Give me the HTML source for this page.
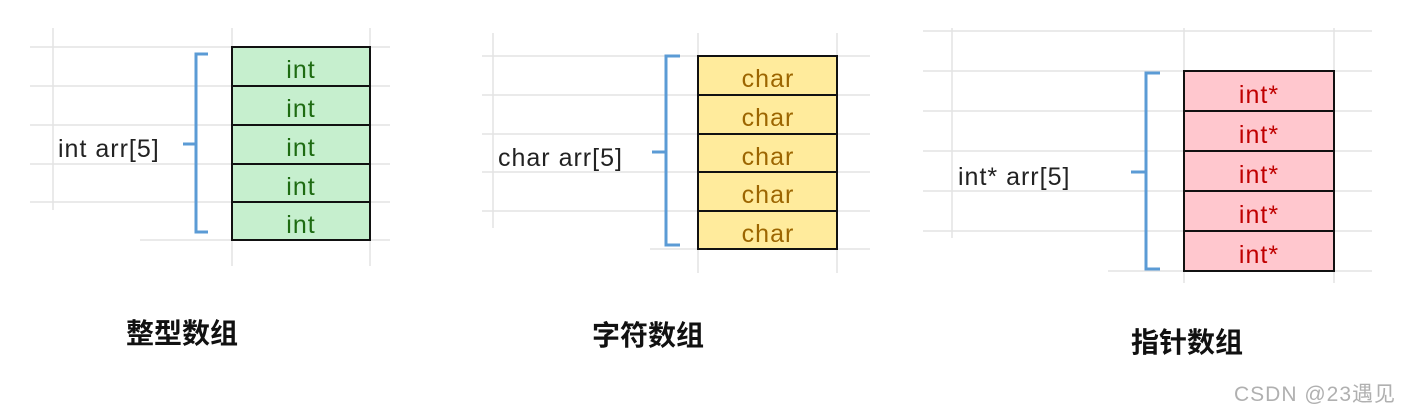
<!DOCTYPE html>
<html><head><meta charset="utf-8"><style>
body{margin:0;background:#fff;width:1402px;height:418px;overflow:hidden}
svg{display:block}
text{font-family:"Liberation Sans","Noto Sans CJK SC",sans-serif}
</style></head><body>
<svg width="1402" height="418" viewBox="0 0 1402 418">
<g stroke="#e3e3e3" stroke-width="1.5" fill="none">
<line x1="30" y1="47" x2="390" y2="47"/><line x1="30" y1="86" x2="390" y2="86"/><line x1="30" y1="125" x2="390" y2="125"/><line x1="30" y1="164" x2="390" y2="164"/><line x1="30" y1="202" x2="390" y2="202"/><line x1="140" y1="240" x2="390" y2="240"/>
<line x1="53" y1="28" x2="53" y2="210"/><line x1="232" y1="28" x2="232" y2="266"/><line x1="370" y1="28" x2="370" y2="266"/>
<line x1="482" y1="56" x2="870" y2="56"/><line x1="482" y1="95" x2="870" y2="95"/><line x1="482" y1="134" x2="870" y2="134"/><line x1="482" y1="172" x2="870" y2="172"/><line x1="482" y1="211" x2="870" y2="211"/><line x1="650" y1="249" x2="870" y2="249"/>
<line x1="493" y1="33" x2="493" y2="228"/><line x1="698" y1="33" x2="698" y2="273"/><line x1="837" y1="33" x2="837" y2="273"/>
<line x1="923" y1="31" x2="1372" y2="31"/><line x1="923" y1="71" x2="1372" y2="71"/><line x1="923" y1="111" x2="1372" y2="111"/><line x1="923" y1="151" x2="1372" y2="151"/><line x1="923" y1="191" x2="1372" y2="191"/><line x1="923" y1="231" x2="1372" y2="231"/><line x1="1108" y1="271" x2="1372" y2="271"/>
<line x1="952" y1="28" x2="952" y2="238"/><line x1="1184" y1="28" x2="1184" y2="283"/><line x1="1334" y1="28" x2="1334" y2="283"/>
</g>
<g stroke="#111" stroke-width="2">
<rect x="232" y="47" width="138" height="193" fill="#c6efce"/>
<line x1="232" y1="86" x2="370" y2="86"/><line x1="232" y1="125" x2="370" y2="125"/><line x1="232" y1="164" x2="370" y2="164"/><line x1="232" y1="202" x2="370" y2="202"/>
<rect x="698" y="56" width="139" height="193" fill="#ffeb9c"/>
<line x1="698" y1="95" x2="837" y2="95"/><line x1="698" y1="134" x2="837" y2="134"/><line x1="698" y1="172" x2="837" y2="172"/><line x1="698" y1="211" x2="837" y2="211"/>
<rect x="1184" y="71" width="150" height="200" fill="#ffc7ce"/>
<line x1="1184" y1="111" x2="1334" y2="111"/><line x1="1184" y1="151" x2="1334" y2="151"/><line x1="1184" y1="191" x2="1334" y2="191"/><line x1="1184" y1="231" x2="1334" y2="231"/>
</g>
<g stroke="#5b9bd5" stroke-width="3" fill="none">
<path d="M208 54 H196 V144 M183 144 H196 M196 144 V232 H208"/>
<path d="M680 56 H666 V152 M652 152 H666 M666 152 V245 H680"/>
<path d="M1160 73 H1146 V172 M1131 172 H1146 M1146 172 V269 H1160"/>
</g>
<g font-size="25" text-anchor="middle" letter-spacing="1">
<g fill="#1e6b12"><text x="301" y="78">int</text><text x="301" y="117">int</text><text x="301" y="156">int</text><text x="301" y="195">int</text><text x="301" y="233">int</text></g>
<g fill="#9c6500"><text x="768" y="87">char</text><text x="768" y="126">char</text><text x="768" y="165">char</text><text x="768" y="203">char</text><text x="768" y="242">char</text></g>
<g fill="#c00000"><text x="1259" y="103">int*</text><text x="1259" y="143">int*</text><text x="1259" y="183">int*</text><text x="1259" y="223">int*</text><text x="1259" y="263">int*</text></g>
</g>
<g font-size="25" fill="#222" letter-spacing="1">
<text x="58" y="157">int arr[5]</text>
<text x="498" y="166">char arr[5]</text>
<text x="958" y="185">int* arr[5]</text>
</g>
<g font-size="28" font-weight="bold" fill="#111" text-anchor="middle">
<text x="182" y="343">整型数组</text>
<text x="648" y="345">字符数组</text>
<text x="1187" y="352">指针数组</text>
</g>
<text x="1396" y="401" font-size="21" fill="#b0b0b0" text-anchor="end" letter-spacing="1">CSDN @23遇见</text>
</svg>
</body></html>
